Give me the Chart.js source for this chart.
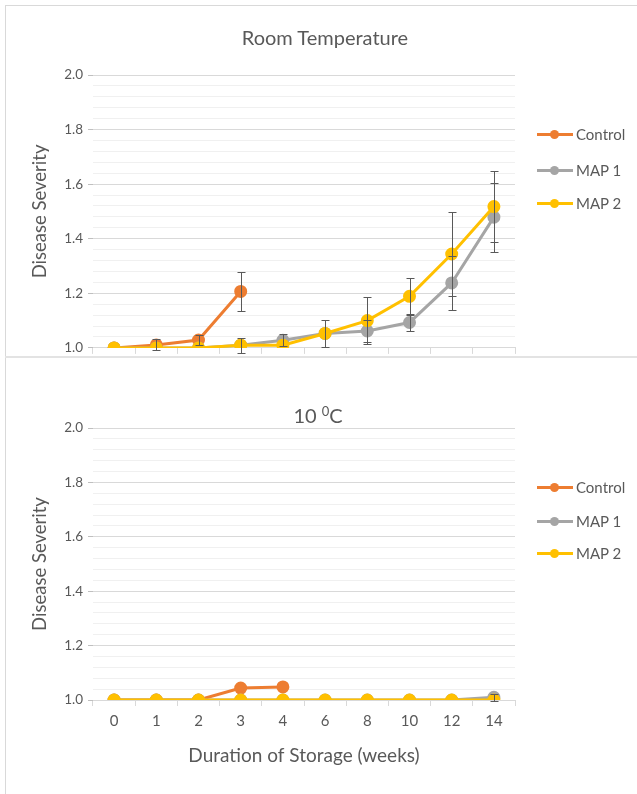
<!DOCTYPE html>
<html>
<head>
<meta charset="utf-8">
<script src="https://cdn.jsdelivr.net/npm/chart.js@4/dist/chart.umd.min.js"></script>
<style>
    body { margin: 0; background: #fff; font-family: Lato, sans-serif; }
    #wrap { position: relative; width: 637px; height: 794px; overflow: hidden; }
    .frame { position: absolute; left: 5px; top: 5px; width: 640px; height: 800px; border-left: 1px solid #d9d9d9; border-top: 1px solid #d9d9d9; }
    .sep { position: absolute; left: 5px; top: 356px; width: 640px; height: 0; border-top: 2px solid #e3e3e3; z-index: 5; }
    canvas { position: absolute; left: 0; }
    .judul { position: absolute; left: 0; text-align: center; font-size: 20px; color: #595959; line-height: 24px; }
    .judul sup { font-size: 13px; vertical-align: 7px; line-height: 0; }
    .legend { position: absolute; left: 537px; }
    .item { position: absolute; left: 0; height: 20px; width: 100px; }
    .item .ln { position: absolute; left: 0; top: 9px; width: 36px; height: 3px; }
    .item .dot { position: absolute; left: 13px; top: 6px; width: 9px; height: 9px; border-radius: 50%; }
    .item .tx { position: absolute; left: 39px; top: 0; font-size: 15px; line-height: 20px; color: #595959; }
</style>
</head>
<body>
<div id="wrap">
    <div class="frame"></div>
    <canvas id="grafikAtas" width="637" height="361" style="top:0"></canvas>
    <canvas id="grafikBawah" width="637" height="436" style="top:358px"></canvas>
    <div class="sep"></div>
    <div class="judul" style="top:25px; width:650px">Room Temperature</div>
    <div class="judul" style="top:403px; width:636px">10 <sup>0</sup>C</div>
    <div class="legend" id="legendAtas" style="top:0"></div>
    <div class="legend" id="legendBawah" style="top:358px"></div>
</div>
<script>
// data
const minggu = ['0', '1', '2', '3', '4', '6', '8', '10', '12', '14'];
const namaSeri = ['Control', 'MAP 1', 'MAP 2'];
const warnaSeri = ['#ED7D31', '#A5A5A5', '#FFC000'];

// Room Temperature
const ruangControl = [1.0, 1.011, 1.029, 1.207];
const ruangMap1 = [1.0, 1.0, 1.0, 1.01, 1.028, 1.053, 1.062, 1.093, 1.238, 1.479];
const ruangMap2 = [1.0, 1.0, 1.0, 1.01, 1.01, 1.053, 1.1, 1.189, 1.344, 1.518];
const ruangControlErr = [0, 0.02, 0.02, 0.07];
const ruangMap1Err = [0, 0, 0, 0.028, 0.022, 0, 0.04, 0.03, 0.1, 0.127];
const ruangMap2Err = [0, 0, 0, 0, 0, 0.05, 0.087, 0.067, 0.153, 0.13];

// 10 oC
const dinginControl = [1.0, 1.0, 1.0, 1.044, 1.048];
const dinginMap1 = [1.0, 1.0, 1.0, 1.0, 1.0, 1.0, 1.0, 1.0, 1.0, 1.01];
const dinginMap2 = [1.0, 1.0, 1.0, 1.0, 1.0, 1.0, 1.0, 1.0, 1.0, 1.0];
const dinginMap1Err = [0, 0, 0, 0, 0, 0, 0, 0, 0, 0.012];

const yTicks = ['1.0', '1.2', '1.4', '1.6', '1.8', '2.0'];

const teks = '#595959';
const font = 'Lato';

function isMayor(v) {
    return Math.abs(v * 5 - Math.round(v * 5)) < 1e-6;
}

// error bar plugin
const errorBarPlugin = {
    id: 'errorBars',
    afterDatasetsDraw(chart) {
        const ctx = chart.ctx;
        const y = chart.scales.y;
        ctx.save();
        ctx.strokeStyle = '#595959';
        ctx.lineWidth = 1;
        chart.data.datasets.forEach((ds, i) => {
            if (!ds.errorBars) return;
            const meta = chart.getDatasetMeta(i);
            ds.errorBars.forEach((e, j) => {
                if (!e || ds.data[j] == null) return;
                const x = Math.round(meta.data[j].x) + 0.5;
                const yAtas = Math.round(y.getPixelForValue(ds.data[j] + e)) + 0.5;
                const yBawah = Math.round(y.getPixelForValue(ds.data[j] - e)) + 0.5;
                ctx.beginPath();
                ctx.moveTo(x, yAtas); ctx.lineTo(x, yBawah);
                ctx.moveTo(x - 4, yAtas); ctx.lineTo(x + 4, yAtas);
                ctx.moveTo(x - 4, yBawah); ctx.lineTo(x + 4, yBawah);
                ctx.stroke();
            });
        });
        ctx.restore();
    }
};

function buatDataset(nilai, idx, err) {
    return {
        label: namaSeri[idx],
        data: nilai,
        borderColor: warnaSeri[idx],
        backgroundColor: warnaSeri[idx],
        pointBackgroundColor: warnaSeri[idx],
        pointBorderColor: warnaSeri[idx],
        borderWidth: 3,
        pointRadius: 5,
        tension: 0,
        order: 2 - idx,
        errorBars: err
    };
}

function buatGrafik(id, datasets, opsi) {
    const ctx = document.getElementById(id).getContext('2d');
    return new Chart(ctx, {
        type: 'line',
        data: { labels: minggu, datasets: datasets },
        plugins: [errorBarPlugin],
        options: {
            responsive: false,
            animation: false,
            layout: { padding: { left: 0, right: 122, top: opsi.atas, bottom: 0 } },
            plugins: {
                legend: { display: false },
                tooltip: { enabled: false },
                title: { display: false }
            },
            scales: {
                x: {
                    type: 'category',
                    offset: true,
                    grid: { offset: true, drawOnChartArea: false, drawTicks: true, tickLength: 6, color: '#d9d9d9' },
                    border: { display: true, color: '#d9d9d9' },
                    ticks: {
                        display: opsi.xLabels,
                        color: teks,
                        padding: 6,
                        font: { family: font, size: 15 }
                    },
                    title: {
                        display: opsi.xLabels,
                        text: 'Duration of Storage (weeks)',
                        color: teks,
                        font: { family: font, size: 19 },
                        padding: { top: 0, bottom: 27 }
                    },
                    afterFit: s => { s.height = opsi.xHeight; }
                },
                y: {
                    min: 1.0,
                    max: 2.0,
                    grid: {
                        drawTicks: true,
                        tickLength: 5,
                        color: c => isMayor(c.tick.value) ? '#d9d9d9' : '#f0f0f0',
                        tickColor: c => isMayor(c.tick.value) ? '#bfbfbf' : 'rgba(0,0,0,0)'
                    },
                    border: { display: false },
                    ticks: {
                        stepSize: 0.04,
                        autoSkip: false,
                        padding: 5,
                        color: teks,
                        font: { family: font, size: 13.5 },
                        callback: v => isMayor(v) ? yTicks[Math.round((v - 1) * 5)] : ''
                    },
                    title: {
                        display: true,
                        text: 'Disease Severity',
                        color: teks,
                        font: { family: font, size: 18.5 },
                        padding: { top: 29, bottom: 0 }
                    },
                    afterFit: s => { s.width = 93; }
                }
            }
        }
    });
}

function buatLegend(id, posY) {
    const el = document.getElementById(id);
    namaSeri.forEach((nama, i) => {
        const item = document.createElement('div');
        item.className = 'item';
        item.style.top = (posY[i] - 10) + 'px';
        item.innerHTML = '<div class="ln" style="background:' + warnaSeri[i] + '"></div>' +
            '<div class="dot" style="background:' + warnaSeri[i] + '"></div>' +
            '<div class="tx">' + nama + '</div>';
        el.appendChild(item);
    });
}

buatGrafik('grafikAtas', [
    buatDataset(ruangControl, 0, ruangControlErr),
    buatDataset(ruangMap1, 1, ruangMap1Err),
    buatDataset(ruangMap2, 2, ruangMap2Err)
], { atas: 75, xLabels: false, xHeight: 9 });

buatGrafik('grafikBawah', [
    buatDataset(dinginControl, 0, null),
    buatDataset(dinginMap1, 1, dinginMap1Err),
    buatDataset(dinginMap2, 2, null)
], { atas: 70, xLabels: true, xHeight: 94 });

buatLegend('legendAtas', [134, 170, 203]);
buatLegend('legendBawah', [129, 163, 195]);
</script>
</body>
</html>
